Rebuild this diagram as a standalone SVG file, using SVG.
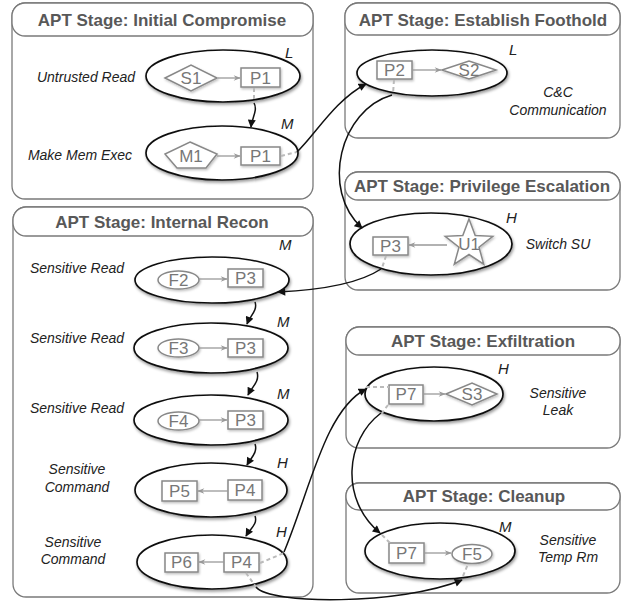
<svg xmlns="http://www.w3.org/2000/svg" width="641" height="608" viewBox="0 0 641 608">
<defs>
<style>
.box{fill:#fff;stroke:#7a7a7a;stroke-width:1.3}
.hdr{fill:#fff;stroke:#7a7a7a;stroke-width:1.3}
.ht{font-family:"Liberation Sans",Arial,sans-serif;font-weight:bold;font-size:17px;fill:#585858;text-anchor:middle}
.ell{fill:#fff;stroke:#111;stroke-width:1.7}
.sh{fill:#fff;stroke:#888;stroke-width:1.5}
.st{font-family:"Liberation Sans",Arial,sans-serif;font-size:17px;fill:#777;text-anchor:middle}
.lab{font-family:"Liberation Sans",Arial,sans-serif;font-style:italic;font-size:14px;fill:#222;text-anchor:middle}
.lv{font-family:"Liberation Sans",Arial,sans-serif;font-style:italic;font-size:15px;fill:#222}
.ie{fill:none;stroke:#999;stroke-width:1.3}
.ce{fill:none;stroke:#111;stroke-width:1.5}
.gd{fill:none;stroke:#bbb;stroke-width:2;stroke-dasharray:4 3}
</style>
<filter id="ds" x="-20%" y="-30%" width="140%" height="170%">
<feDropShadow dx="1" dy="2" stdDeviation="1.5" flood-color="#000" flood-opacity="0.4"/>
</filter>
<filter id="ds2" x="-20%" y="-30%" width="140%" height="170%">
<feDropShadow dx="1" dy="1.5" stdDeviation="1" flood-color="#000" flood-opacity="0.25"/>
</filter>
<marker id="ab" viewBox="0 0 10 10" refX="9" refY="5" markerWidth="9" markerHeight="8" markerUnits="userSpaceOnUse" orient="auto">
<path d="M0,0 L10,5 L0,10 Z" fill="#111"/>
</marker>
<marker id="ag" viewBox="0 0 10 10" refX="9" refY="5" markerWidth="8" markerHeight="7" markerUnits="userSpaceOnUse" orient="auto">
<path d="M0,1 L10,5 L0,9 L3,5 Z" fill="#999"/>
</marker>
</defs>
<rect width="641" height="608" fill="#fff"/>

<g id="stage-initial">
<rect class="box" x="12" y="3" width="301" height="196" rx="13"/>
<rect class="hdr" x="12" y="3" width="301" height="33" rx="13"/>
<text class="ht" x="162" y="26">APT Stage: Initial Compromise</text>
</g>
<g id="stage-foothold">
<rect class="box" x="345" y="3" width="275" height="135" rx="13"/>
<rect class="hdr" x="345" y="3" width="275" height="32" rx="13"/>
<text class="ht" x="483" y="26">APT Stage: Establish Foothold</text>
</g>
<g id="stage-privilege">
<rect class="box" x="345" y="172" width="275" height="118" rx="13"/>
<rect class="hdr" x="345" y="172" width="275" height="28" rx="13"/>
<text class="ht" x="482" y="192">APT Stage: Privilege Escalation</text>
</g>
<g id="stage-recon">
<rect class="box" x="13" y="207" width="300" height="390" rx="13"/>
<rect class="hdr" x="13" y="207" width="300" height="29" rx="13"/>
<text class="ht" x="162" y="228">APT Stage: Internal Recon</text>
</g>
<g id="stage-exfil">
<rect class="box" x="346" y="327" width="274" height="121" rx="13"/>
<rect class="hdr" x="346" y="327" width="274" height="28" rx="13"/>
<text class="ht" x="483" y="347">APT Stage: Exfiltration</text>
</g>
<g id="stage-cleanup">
<rect class="box" x="346" y="483" width="274" height="110" rx="13"/>
<rect class="hdr" x="346" y="483" width="274" height="27" rx="13"/>
<text class="ht" x="484" y="502">APT Stage: Cleanup</text>
</g>

<g id="n-untrusted-read">
<ellipse class="ell" cx="223" cy="76" rx="77" ry="26" filter="url(#ds)"/>
<text class="lab" x="86" y="82">Untrusted Read</text>
<text class="lv" x="285" y="58">L</text>
<polygon class="sh" points="165,78 191,65 217,78 191,91" filter="url(#ds2)"/>
<text class="st" x="191" y="84">S1</text>
<rect class="sh" x="241" y="68" width="39" height="19" filter="url(#ds2)"/>
<text class="st" x="260.5" y="84">P1</text>
<line class="ie" x1="218" y1="78" x2="240" y2="78" marker-end="url(#ag)"/>
</g>
<g id="n-make-mem-exec">
<ellipse class="ell" cx="222" cy="153" rx="76" ry="27" filter="url(#ds)"/>
<text class="lab" x="80" y="160">Make Mem Exec</text>
<text class="lv" x="281" y="129">M</text>
<polygon class="sh" points="190,142 217,154 206,168 177,168 165,154" filter="url(#ds2)"/>
<text class="st" x="191" y="162">M1</text>
<rect class="sh" x="241" y="147" width="39" height="18" filter="url(#ds2)"/>
<text class="st" x="260.5" y="162">P1</text>
<line class="ie" x1="217" y1="156" x2="240" y2="156" marker-end="url(#ag)"/>
</g>
<g id="n-cc">
<ellipse class="ell" cx="432" cy="73" rx="75" ry="23" filter="url(#ds)"/>
<text class="lv" x="509" y="55">L</text>
<text class="lab" x="558" y="97">C&amp;C</text>
<text class="lab" x="558" y="115">Communication</text>
<rect class="sh" x="377" y="61" width="35" height="18" filter="url(#ds2)"/>
<text class="st" x="394.5" y="76">P2</text>
<polygon class="sh" points="442,70 469,61 496,70 469,79" filter="url(#ds2)"/>
<text class="st" x="469" y="76">S2</text>
<line class="ie" x1="412" y1="70" x2="441" y2="70" marker-end="url(#ag)"/>
</g>
<g id="n-switch-su">
<ellipse class="ell" cx="431" cy="244" rx="81" ry="31" filter="url(#ds)"/>
<text class="lv" x="506" y="223">H</text>
<text class="lab" x="558" y="249">Switch SU</text>
<rect class="sh" x="373" y="237" width="35" height="18" filter="url(#ds2)"/>
<text class="st" x="390.5" y="252">P3</text>
<polygon class="sh" points="469,219 475.2,235.5 492.8,236.3 479,247.2 483.7,264.2 469,254.5 454.3,264.2 459,247.2 445.2,236.3 462.8,235.5" filter="url(#ds2)"/>
<text class="st" x="469" y="250">U1</text>
<line class="ie" x1="447" y1="245" x2="409" y2="245" marker-end="url(#ag)"/>
</g>
<g id="n-sread-1">
<ellipse class="ell" cx="212" cy="280" rx="77" ry="23" filter="url(#ds)"/>
<text class="lab" x="77" y="273">Sensitive Read</text>
<text class="lv" x="279" y="250">M</text>
<ellipse class="sh" cx="178.5" cy="280" rx="20.5" ry="9" filter="url(#ds2)"/>
<text class="st" x="178.5" y="286">F2</text>
<rect class="sh" x="228" y="269" width="35" height="18" filter="url(#ds2)"/>
<text class="st" x="245.5" y="284">P3</text>
<line class="ie" x1="199" y1="279" x2="227" y2="279" marker-end="url(#ag)"/>
</g>
<g id="n-sread-2">
<ellipse class="ell" cx="211" cy="348" rx="77" ry="25" filter="url(#ds)"/>
<text class="lab" x="77" y="343">Sensitive Read</text>
<text class="lv" x="277" y="327">M</text>
<ellipse class="sh" cx="178.5" cy="348" rx="20.5" ry="9" filter="url(#ds2)"/>
<text class="st" x="178.5" y="354">F3</text>
<rect class="sh" x="228" y="339" width="35" height="18" filter="url(#ds2)"/>
<text class="st" x="245.5" y="354">P3</text>
<line class="ie" x1="199" y1="348" x2="227" y2="348" marker-end="url(#ag)"/>
</g>
<g id="n-sread-3">
<ellipse class="ell" cx="211" cy="420" rx="77" ry="25" filter="url(#ds)"/>
<text class="lab" x="77" y="413">Sensitive Read</text>
<text class="lv" x="277" y="399">M</text>
<ellipse class="sh" cx="178.5" cy="421" rx="20.5" ry="9" filter="url(#ds2)"/>
<text class="st" x="178.5" y="427">F4</text>
<rect class="sh" x="228" y="411" width="35" height="18" filter="url(#ds2)"/>
<text class="st" x="245.5" y="426">P3</text>
<line class="ie" x1="199" y1="420" x2="227" y2="420" marker-end="url(#ag)"/>
</g>
<g id="n-scmd-1">
<ellipse class="ell" cx="211" cy="490" rx="76" ry="27" filter="url(#ds)"/>
<text class="lab" x="77" y="474">Sensitive</text>
<text class="lab" x="77" y="492">Command</text>
<text class="lv" x="277" y="468">H</text>
<rect class="sh" x="162" y="481" width="35" height="20" filter="url(#ds2)"/>
<text class="st" x="179.5" y="497">P5</text>
<rect class="sh" x="228" y="480" width="34" height="20" filter="url(#ds2)"/>
<text class="st" x="245" y="496">P4</text>
<line class="ie" x1="228" y1="491" x2="198" y2="491" marker-end="url(#ag)"/>
</g>
<g id="n-scmd-2">
<ellipse class="ell" cx="212" cy="562" rx="75" ry="27" filter="url(#ds)"/>
<text class="lab" x="73" y="547">Sensitive</text>
<text class="lab" x="73" y="564">Command</text>
<text class="lv" x="276" y="537">H</text>
<rect class="sh" x="165" y="553" width="33" height="19" filter="url(#ds2)"/>
<text class="st" x="181.5" y="568">P6</text>
<rect class="sh" x="224" y="553" width="35" height="19" filter="url(#ds2)"/>
<text class="st" x="241.5" y="568">P4</text>
<line class="ie" x1="224" y1="562" x2="199" y2="562" marker-end="url(#ag)"/>
</g>
<g id="n-sleak">
<ellipse class="ell" cx="434" cy="394" rx="69" ry="27" filter="url(#ds)"/>
<text class="lv" x="498" y="374">H</text>
<text class="lab" x="558" y="398">Sensitive</text>
<text class="lab" x="558" y="415">Leak</text>
<rect class="sh" x="389" y="385" width="34" height="19" filter="url(#ds2)"/>
<text class="st" x="406" y="400">P7</text>
<polygon class="sh" points="446,394 472,383 497,394 472,405" filter="url(#ds2)"/>
<text class="st" x="472" y="400">S3</text>
<line class="ie" x1="423" y1="394" x2="445" y2="394" marker-end="url(#ag)"/>
</g>
<g id="n-tmprm">
<ellipse class="ell" cx="440" cy="551" rx="75" ry="28" filter="url(#ds)"/>
<text class="lv" x="499" y="532">M</text>
<text class="lab" x="568" y="545">Sensitive</text>
<text class="lab" x="568" y="562">Temp Rm</text>
<rect class="sh" x="389" y="543" width="35" height="20" filter="url(#ds2)"/>
<text class="st" x="406.5" y="559">P7</text>
<ellipse class="sh" cx="472" cy="554" rx="20" ry="9.5" filter="url(#ds2)"/>
<text class="st" x="472" y="560">F5</text>
<line class="ie" x1="424" y1="553" x2="451" y2="553" marker-end="url(#ag)"/>
</g>

<g id="connectors">
<line class="gd" x1="254" y1="88" x2="254" y2="101"/>
<path class="ce" d="M254,103 C258,110 252,118 251,127" marker-end="url(#ab)"/>
<line class="gd" x1="281" y1="156" x2="297" y2="152"/>
<path class="ce" d="M297,152 C315,135 335,100 366,84" marker-end="url(#ab)"/>
<line class="gd" x1="394" y1="80" x2="393" y2="94"/>
<path class="ce" d="M392,95 C340,110 320,190 362,228" marker-end="url(#ab)"/>
<line class="gd" x1="386" y1="256" x2="382" y2="268"/>
<path class="ce" d="M381,269 C360,283 320,290 278,292" marker-end="url(#ab)"/>
<path class="ce" d="M255,302 C258,310 250,316 247,324" marker-end="url(#ab)"/>
<path class="ce" d="M257,372 C260,381 252,387 248,395" marker-end="url(#ab)"/>
<path class="ce" d="M255,444 C258,452 251,458 247,465" marker-end="url(#ab)"/>
<path class="ce" d="M255,516 C258,524 250,529 246,536" marker-end="url(#ab)"/>
<line class="gd" x1="260" y1="563" x2="284" y2="553"/>
<path class="ce" d="M284,552 C310,490 325,410 366,389" marker-end="url(#ab)"/>
<line class="gd" x1="366" y1="387" x2="389" y2="387"/>
<line class="gd" x1="246" y1="573" x2="256" y2="587"/>
<path class="ce" d="M256,587 C270,605 400,605 462,580" marker-end="url(#ab)"/>
<line class="gd" x1="463" y1="576" x2="468" y2="564"/>
<line class="gd" x1="388" y1="405" x2="382" y2="413"/>
<path class="ce" d="M381,413 C345,440 340,500 380,533" marker-end="url(#ab)"/>
<line class="gd" x1="382" y1="535" x2="390" y2="543"/>
</g>
</svg>
